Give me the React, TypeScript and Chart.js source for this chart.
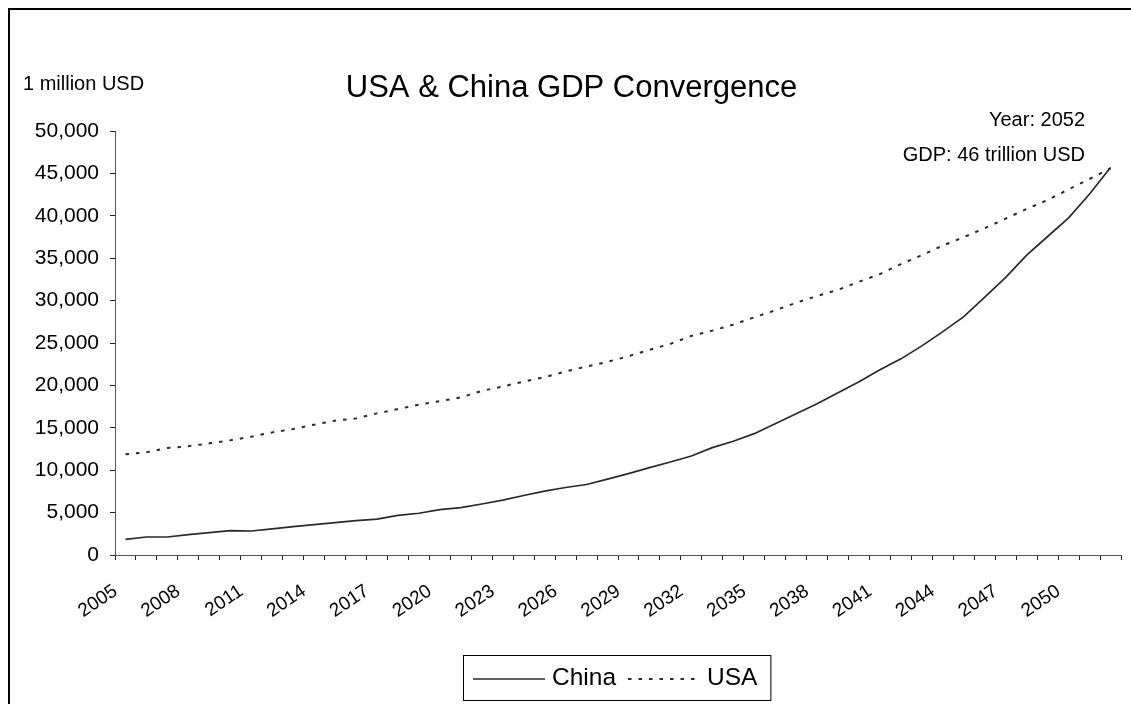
import React, { useEffect, useRef } from "react";
import { Chart, registerables } from "chart.js";

Chart.register(...registerables);

const FONT = "'Liberation Sans', Arial, sans-serif";

// Years on the category axis
const years = [
  "2005", "2006", "2007", "2008", "2009", "2010", "2011", "2012",
  "2013", "2014", "2015", "2016", "2017", "2018", "2019", "2020",
  "2021", "2022", "2023", "2024", "2025", "2026", "2027", "2028",
  "2029", "2030", "2031", "2032", "2033", "2034", "2035", "2036",
  "2037", "2038", "2039", "2040", "2041", "2042", "2043", "2044",
  "2045", "2046", "2047", "2048", "2049", "2050", "2051", "2052",
];

// GDP in millions of USD
const china = [
  1850, 2120, 2120, 2400, 2630, 2870, 2830, 3070, 3340, 3580, 3810, 4050,
  4240, 4680, 4920, 5340, 5580, 6010, 6470, 7020, 7530, 7960, 8310, 8940,
  9600, 10310, 10970, 11680, 12660, 13410, 14310, 15490, 16660, 17840, 19130, 20430,
  21840, 23130, 24660, 26340, 28110, 30400, 32750, 35360, 37560, 39760, 42570, 45700,
];

const usa = [
  11880, 12110, 12620, 12820, 13170, 13520, 13950, 14460, 14860, 15370, 15840, 16110,
  16700, 17210, 17720, 18150, 18580, 19350, 19870, 20460, 20970, 21640, 22230, 22780,
  23440, 24190, 24900, 25840, 26460, 27170, 28030, 28850, 29740, 30540, 31280, 32220,
  33130, 34300, 35360, 36490, 37480, 38540, 39670, 40810, 41870, 43120, 44340, 45600,
];

const Y_MIN = 0;
const Y_MAX = 50000;
const Y_STEP = 5000;
const LABEL_EVERY = 3;

const TITLE = "USA & China GDP Convergence";
const UNIT_LABEL = "1 million USD";

const W = 1121;
const H = 694;

// Title, unit caption, end-point note and boxed legend
const overlayPlugin = {
  id: "overlay",
  afterDraw(chart: any) {
    const { ctx, chartArea } = chart;
    ctx.save();
    ctx.fillStyle = "#000";
    ctx.textBaseline = "alphabetic";

    ctx.font = `31px ${FONT}`;
    ctx.textAlign = "center";
    ctx.fillText(TITLE, W / 2 + 1, 87);

    ctx.font = `20px ${FONT}`;
    ctx.textAlign = "left";
    ctx.fillText(UNIT_LABEL, 13, 80);

    const last = years.length - 1;
    ctx.textAlign = "right";
    ctx.fillText(`Year: ${years[last]}`, 1075, 116);
    ctx.fillText(`GDP: ${Math.round(china[last] / 1000)} trillion USD`, 1075, 151);

    // legend
    ctx.font = `24.5px ${FONT}`;
    ctx.textAlign = "left";
    const sample = 72;
    const gapText = 7;
    const gapItem = 12;
    const padL = 10;
    const padR = 13;
    const items = chart.data.datasets.map((ds: any) => ({
      label: ds.label,
      dash: ds.borderDash || [],
      width: ds.borderWidth,
      color: ds.borderColor,
      tw: ctx.measureText(ds.label).width,
    }));
    let total = padL + padR + gapItem * (items.length - 1);
    items.forEach((it: any) => (total += sample + gapText + it.tw));
    const cx = (chartArea.left + chartArea.right) / 2;
    const x0 = Math.round(cx - total / 2) - 1;
    const top = 645;
    const h = 45;
    ctx.strokeStyle = "#000";
    ctx.lineWidth = 1;
    ctx.strokeRect(x0 + 0.5, top + 0.5, total, h);
    let x = x0 + padL;
    const midY = top + 24;
    items.forEach((it: any) => {
      ctx.save();
      ctx.strokeStyle = it.color;
      ctx.lineWidth = it.width;
      ctx.setLineDash(it.dash);
      ctx.beginPath();
      ctx.moveTo(x, midY);
      ctx.lineTo(x + sample, midY);
      ctx.stroke();
      ctx.restore();
      ctx.fillText(it.label, x + sample + gapText, top + 30);
      x += sample + gapText + it.tw + gapItem;
    });
    ctx.restore();
  },
};

export default function App() {
  const canvasRef = useRef<HTMLCanvasElement | null>(null);

  useEffect(() => {
    if (!canvasRef.current) return;
    const chart = new Chart(canvasRef.current, {
      type: "line",
      data: {
        labels: years,
        datasets: [
          {
            label: "China",
            data: china,
            borderColor: "#2a2a2a",
            borderWidth: 1.7,
            pointRadius: 0,
            tension: 0,
            fill: false,
          },
          {
            label: "USA",
            data: usa,
            borderColor: "#2a2a2a",
            borderWidth: 2,
            borderDash: [3.5, 7],
            pointRadius: 0,
            tension: 0,
            fill: false,
          },
        ],
      },
      options: {
        responsive: false,
        animation: false,
        events: [],
        layout: { padding: { top: 121, left: 0, right: 10, bottom: 59 } },
        plugins: {
          legend: { display: false },
          title: { display: false },
          tooltip: { enabled: false },
        },
        scales: {
          x: {
            type: "category",
            offset: true,
            grid: {
              offset: true,
              drawOnChartArea: false,
              drawTicks: true,
              tickLength: 5,
              color: "#222",
            },
            border: { display: true, color: "#555", width: 1 },
            ticks: {
              autoSkip: false,
              minRotation: 34,
              maxRotation: 34,
              padding: 20,
              labelOffset: -10,
              color: "#000",
              font: { family: FONT, size: 19 },
              callback: (_v: any, i: number) => (i % LABEL_EVERY === 0 ? years[i] : ""),
            },
            afterFit: (s: any) => {
              s.height = 90;
              s.paddingLeft = 0;
              s.paddingRight = 0;
            },
          },
          y: {
            min: Y_MIN,
            max: Y_MAX,
            grid: {
              drawOnChartArea: false,
              drawTicks: true,
              tickLength: 5,
              color: "#222",
            },
            border: { display: true, color: "#555", width: 1 },
            ticks: {
              stepSize: Y_STEP,
              padding: 11,
              color: "#000",
              font: { family: FONT, size: 21 },
              callback: (v: any) => Number(v).toLocaleString("en-US"),
            },
            afterFit: (s: any) => {
              s.width = 105;
            },
          },
        },
      },
      plugins: [overlayPlugin],
    });
    return () => chart.destroy();
  }, []);

  return (
    <div
      style={{
        position: "fixed",
        left: 8,
        top: 8,
        width: 1123,
        height: 696,
        boxSizing: "border-box",
        borderTop: "2px solid #000",
        borderLeft: "2px solid #000",
        background: "#fff",
      }}
    >
      <canvas ref={canvasRef} width={W} height={H} style={{ display: "block" }} />
    </div>
  );
}
